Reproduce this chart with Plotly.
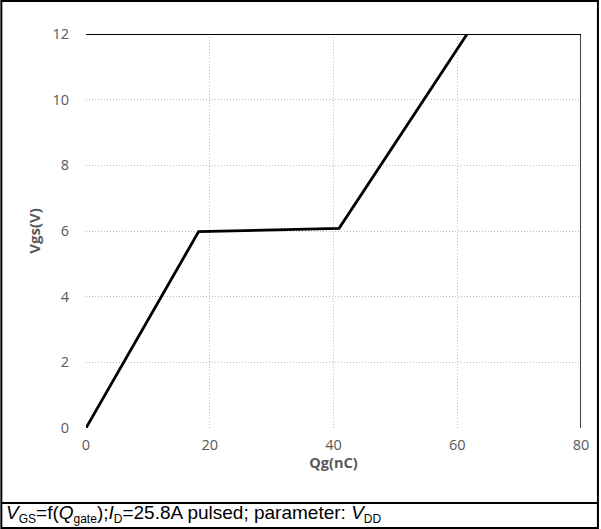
import plotly.graph_objects as go

qg = [0, 18.2, 40.9, 61.6]
vgs = [0, 5.98, 6.08, 12.0]
x_ticks = [0, 20, 40, 60, 80]
y_ticks = [0, 2, 4, 6, 8, 10, 12]

W, H = 601, 529
L, R, T, B = 86, 18, 34, 101
pw, ph = W - L - R, H - T - B

def px(p):
    return (p - L) / pw

def py(p):
    return (H - B - p) / ph

def sub(s):
    return '<sub><span style="font-size:12px">' + s + '</span></sub>'

caption = ("<i>V</i>" + sub("GS") + "=f(<i>Q</i>" + sub("gate") + ");<i>I</i>" + sub("D")
           + "=25.8A pulsed; parameter: <i>V</i>" + sub("DD"))

fig = go.Figure()
fig.add_trace(go.Scatter(x=qg, y=vgs, mode="lines",
                         line=dict(color="black", width=2.8), showlegend=False,
                         cliponaxis=False))

tfont = dict(family="Open Sans", size=14.5, color="#595959")
grid = dict(showgrid=True, gridcolor="#bdbdbd", griddash="1px,2px", gridwidth=1.2,
            zeroline=False, showline=False, ticks="", tickfont=tfont)

fig.update_layout(
    width=W, height=H,
    margin=dict(l=L, r=R, t=T, b=B),
    paper_bgcolor="white", plot_bgcolor="white",
    xaxis=dict(range=[0, 80], tickvals=x_ticks, **grid, ticklabelstandoff=6,
               title=dict(text="<b>Qg(nC)</b>", font=dict(family="Open Sans", size=14.5, color="#595959"), standoff=0)),
    yaxis=dict(range=[0, 12], tickvals=y_ticks, **grid, ticklabelstandoff=16,
               title=dict(text="<b>Vgs(V)</b>", font=dict(family="Open Sans", size=15, color="#595959"), standoff=8)),
    shapes=[
        dict(type="line", xref="x", yref="y", x0=0, x1=80, y0=12, y1=12, line=dict(color="black", width=2)),
        dict(type="line", xref="x", yref="y", x0=80, x1=80, y0=0, y1=12, line=dict(color="black", width=1.5)),
        dict(type="rect", xref="paper", yref="paper", x0=px(1), x1=px(600), y0=py(1), y1=py(528),
             line=dict(color="black", width=2)),
        dict(type="line", xref="paper", yref="paper", x0=px(1), x1=px(600), y0=py(503), y1=py(503),
             line=dict(color="black", width=2)),
    ],
    annotations=[
        dict(xref="paper", yref="paper", x=px(4), y=py(514), xanchor="left", yanchor="middle",
             showarrow=False, align="left", text=caption,
             font=dict(family="Liberation Sans", size=19, color="black")),
    ],
)

fig.write_html("out.html")
